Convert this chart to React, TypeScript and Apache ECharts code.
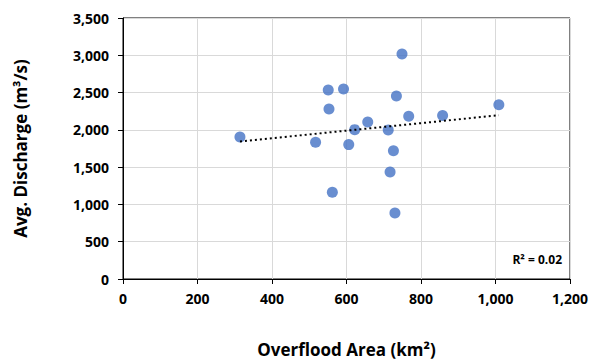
import React, { useEffect, useRef } from "react";
import * as echarts from "echarts";

const overfloodArea = [749, 551, 592, 553, 734, 767, 858, 1009, 657, 622, 712, 517, 606, 726, 717, 562, 730, 314];
const avgDischarge = [3017, 2535, 2548, 2280, 2454, 2181, 2194, 2338, 2106, 2003, 1999, 1833, 1802, 1721, 1436, 1162, 886, 1905];

const xTicks = [0, 200, 400, 600, 800, 1000, 1200];
const yTicks = [0, 500, 1000, 1500, 2000, 2500, 3000, 3500];

function regression(xs: number[], ys: number[]) {
  const n = xs.length;
  const mx = xs.reduce((a, b) => a + b, 0) / n;
  const my = ys.reduce((a, b) => a + b, 0) / n;
  let sxy = 0, sxx = 0, syy = 0;
  for (let i = 0; i < n; i++) {
    sxy += (xs[i] - mx) * (ys[i] - my);
    sxx += (xs[i] - mx) ** 2;
    syy += (ys[i] - my) ** 2;
  }
  const slope = sxy / sxx;
  const intercept = my - slope * mx;
  const r2 = (sxy * sxy) / (sxx * syy);
  return { slope, intercept, r2 };
}

const fmt = (v: number) => v.toLocaleString("en-US");

export default function App() {
  const ref = useRef<HTMLDivElement>(null);
  useEffect(() => {
    if (!ref.current) return;
    const chart = echarts.init(ref.current, undefined, { renderer: "svg" });
    const { slope, intercept, r2 } = regression(overfloodArea, avgDischarge);
    const xMin = Math.min(...overfloodArea);
    const xMax = Math.max(...overfloodArea);
    const font = "'Open Sans', Lato, sans-serif";
    chart.setOption({
      animation: false,
      textStyle: { fontFamily: font },
      grid: {
        left: 123,
        right: 28,
        top: 18,
        bottom: 81,
        outerBoundsMode: "none",
        containLabel: false,
        show: true,
        borderColor: "#000",
        borderWidth: 1,
        backgroundColor: "transparent",
      },
      xAxis: {
        type: "value",
        min: xTicks[0],
        max: xTicks[xTicks.length - 1],
        interval: 200,
        name: "Overflood Area (km²)",
        nameLocation: "middle",
        nameGap: 62,
        nameTextStyle: { fontSize: 17, fontWeight: "bold", color: "#000", fontFamily: font },
        axisLine: { show: true, lineStyle: { color: "#000", width: 1 } },
        axisTick: { show: true, length: 5, lineStyle: { color: "#000" } },
        axisLabel: {
          fontSize: 14,
          fontWeight: "bold",
          color: "#000",
          margin: 12,
          fontFamily: font,
          formatter: (v: number) => fmt(v),
        },
        splitLine: { show: true, lineStyle: { color: "#d9d9d9", width: 1 } },
      },
      yAxis: {
        type: "value",
        min: yTicks[0],
        max: yTicks[yTicks.length - 1],
        interval: 500,
        name: "Avg. Discharge (m³/s)",
        nameLocation: "middle",
        nameGap: 94,
        nameRotate: 90,
        nameTextStyle: { fontSize: 17, fontWeight: "bold", color: "#000", fontFamily: font },
        axisLine: { show: true, lineStyle: { color: "#000", width: 1 } },
        axisTick: { show: true, length: 5, lineStyle: { color: "#000" } },
        axisLabel: {
          fontSize: 14,
          fontWeight: "bold",
          color: "#000",
          margin: 14,
          fontFamily: font,
          formatter: (v: number) => fmt(v),
        },
        splitLine: { show: true, lineStyle: { color: "#d9d9d9", width: 1 } },
      },
      series: [
        {
          type: "line",
          data: [
            [xMin, intercept + slope * xMin],
            [xMax, intercept + slope * xMax],
          ],
          showSymbol: false,
          symbol: "none",
          lineStyle: { color: "#000", width: 2, type: [2, 3] },
          z: 3,
          silent: true,
        },
        {
          type: "scatter",
          data: overfloodArea.map((x, i) => [x, avgDischarge[i]]),
          symbol: "circle",
          symbolSize: 11,
          itemStyle: { color: "#4472C4" },
          z: 2,
        },
      ],
      graphic: [
        {
          type: "text",
          right: 36,
          top: 253,
          style: {
            text: `R² = ${r2.toFixed(2)}`,
            font: `bold 12px ${font}`,
            fill: "#000",
          },
        },
      ],
    });
    return () => chart.dispose();
  }, []);
  return <div ref={ref} style={{ width: 598, height: 360, position: "absolute", left: 0, top: 0 }} />;
}
